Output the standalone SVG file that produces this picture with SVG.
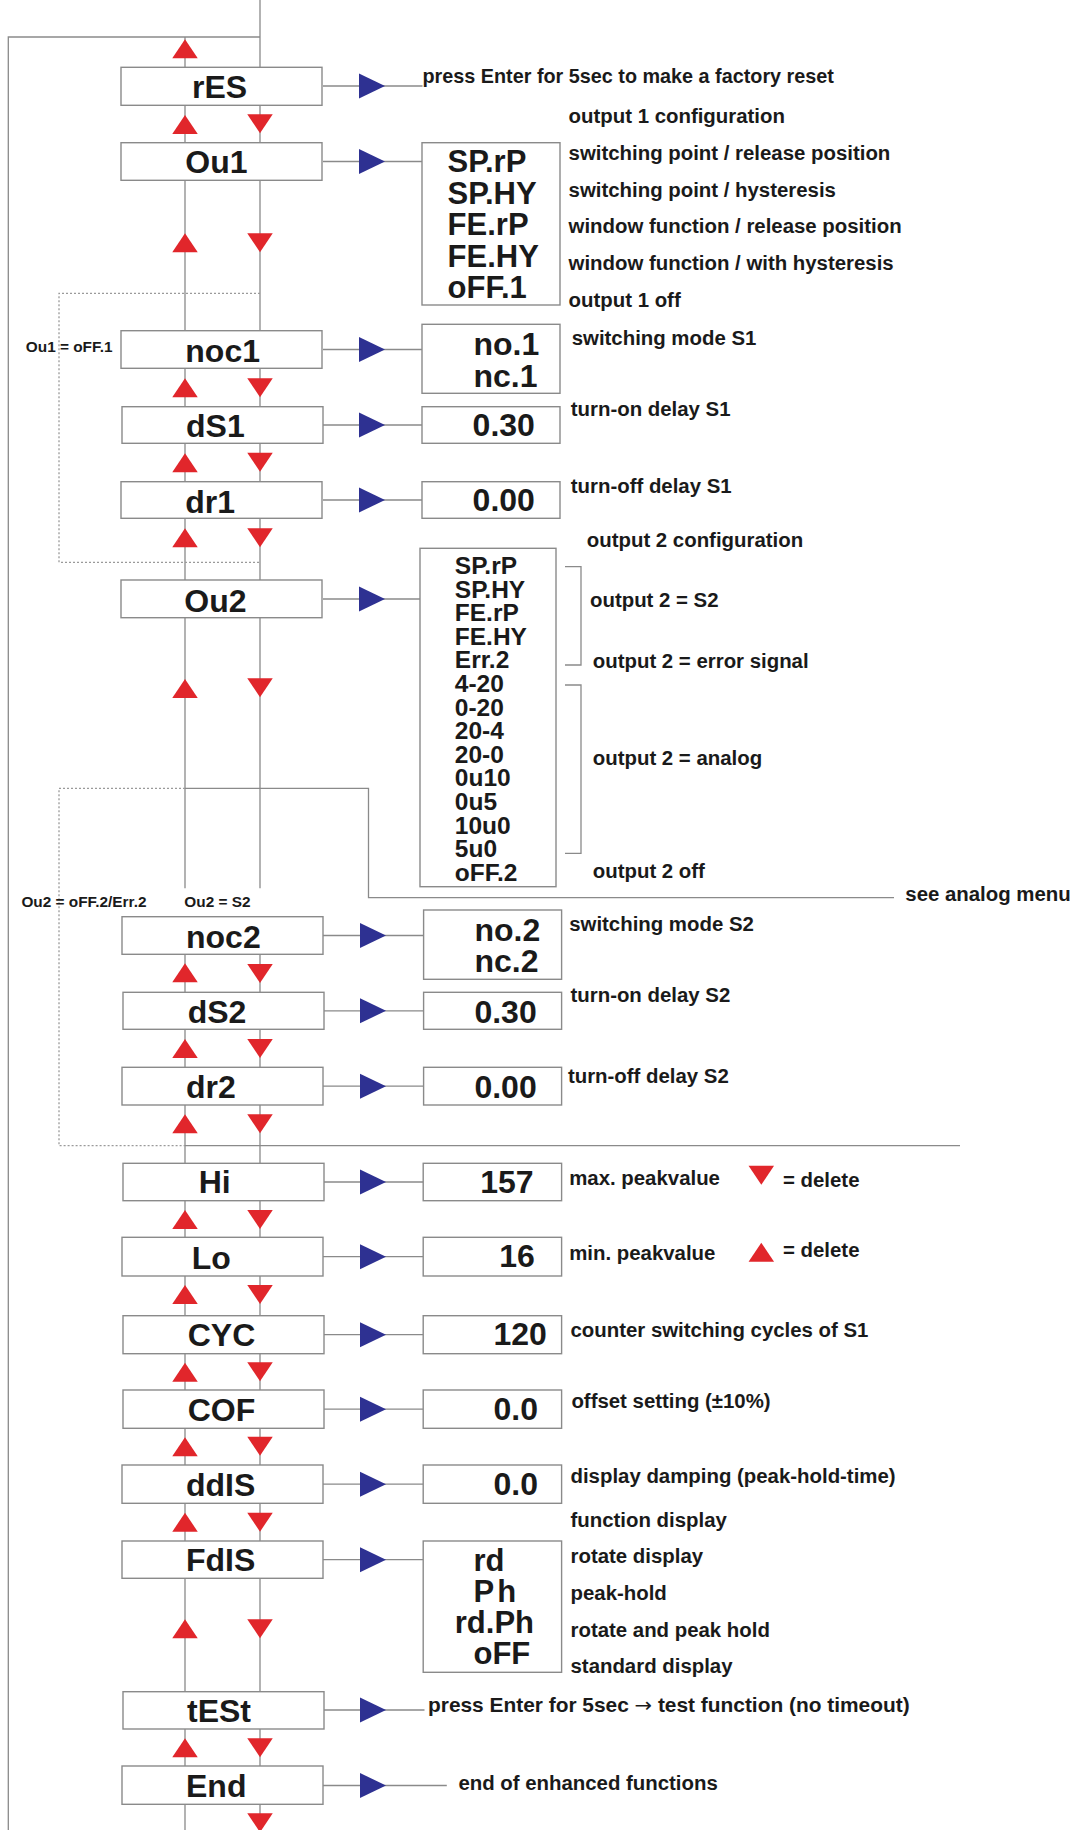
<svg xmlns="http://www.w3.org/2000/svg" width="1078" height="1830" viewBox="0 0 1078 1830">
<style>
.bx{fill:#fff;stroke:#8a8a8a;stroke-width:1.4}
.ln{fill:none;stroke:#8a8a8a;stroke-width:1.3}
.dt{fill:none;stroke:#9a9a9a;stroke-width:1.3;stroke-dasharray:2 2}
text{font-family:"Liberation Sans",Arial,sans-serif;font-weight:bold;fill:#1a1a1a}
.lbl{font-size:32px}
.val{font-size:32px}
.o1{font-size:31px}
.o2{font-size:24.5px}
.t{font-size:20px}
.s{font-size:14.5px}
.ar{font-family:"DejaVu Sans",sans-serif;font-weight:normal}
</style>
<defs>
<path id="up" d="M0,0L12.75,19L-12.75,19Z" fill="#e1262b"/>
<path id="dn" d="M-12.75,0L12.75,0L0,19Z" fill="#e1262b"/>
<path id="ra" d="M0,-12.5L26,0L0,12.5Z" fill="#2e3192"/>
</defs>
<g id="connectors">
<path class="ln" d="M8.3 1830V37H260"/>
<path class="ln" d="M185 37V888.3M185 916.7V1830"/>
<path class="ln" d="M260 0V888.3M260 916.7V1830"/>
<path class="dt" d="M260 293.3H59V562.3H260"/>
<path class="dt" d="M185 788.3H59V1145.7H185"/>
<path class="ln" d="M185 788.3H368.5V897.7H894"/>
<path class="ln" d="M185 1145.7H960"/>
<path class="ln" d="M565 566.7H581V665H565M565 685H581V853.3H565"/>
<path class="ln" d="M323 86H422.5M323 161.5H422M323 349.5H422M323 425H422M323 500H422M323 599H420M323 935.5H423.6M323 1010.8H423.6M323 1086.2H423.6M323 1182H423.2M323 1256.7H423.2M323 1334.7H423.2M323 1409.2H423.2M323 1484.2H423.2M323 1559.7H423.2M323 1710H424.5M323 1785.5H446.8"/>
<use href="#ra" x="359" y="86"/>
<use href="#ra" x="359" y="161.5"/>
<use href="#ra" x="359" y="349.5"/>
<use href="#ra" x="359" y="425"/>
<use href="#ra" x="359" y="500"/>
<use href="#ra" x="359" y="599"/>
<use href="#ra" x="360" y="935.5"/>
<use href="#ra" x="360" y="1010.8"/>
<use href="#ra" x="360" y="1086.2"/>
<use href="#ra" x="360" y="1182"/>
<use href="#ra" x="360" y="1256.7"/>
<use href="#ra" x="360" y="1334.7"/>
<use href="#ra" x="360" y="1409.2"/>
<use href="#ra" x="360" y="1484.2"/>
<use href="#ra" x="360" y="1559.7"/>
<use href="#ra" x="360" y="1710"/>
<use href="#ra" x="360" y="1785.5"/>
<use href="#up" x="185" y="39.3"/>
<use href="#up" x="185" y="115"/><use href="#dn" x="260" y="114.3"/>
<use href="#up" x="185" y="233.3"/><use href="#dn" x="260" y="233.3"/>
<use href="#up" x="185" y="378.3"/><use href="#dn" x="260" y="378.3"/>
<use href="#up" x="185" y="453.3"/><use href="#dn" x="260" y="452.7"/>
<use href="#up" x="185" y="528.3"/><use href="#dn" x="260" y="528.3"/>
<use href="#up" x="185" y="679"/><use href="#dn" x="260" y="678.3"/>
<use href="#up" x="185" y="963.3"/><use href="#dn" x="260" y="964"/>
<use href="#up" x="185" y="1039"/><use href="#dn" x="260" y="1039"/>
<use href="#up" x="185" y="1114.3"/><use href="#dn" x="260" y="1114.3"/>
<use href="#up" x="185" y="1210"/><use href="#dn" x="260" y="1210"/>
<use href="#up" x="185" y="1285"/><use href="#dn" x="260" y="1285"/>
<use href="#up" x="185" y="1362.7"/><use href="#dn" x="260" y="1362.3"/>
<use href="#up" x="185" y="1437.3"/><use href="#dn" x="260" y="1436.7"/>
<use href="#up" x="185" y="1512.7"/><use href="#dn" x="260" y="1512.7"/>
<use href="#up" x="185" y="1619.3"/><use href="#dn" x="260" y="1619.3"/>
<use href="#up" x="185" y="1738.3"/><use href="#dn" x="260" y="1738.3"/>
<use href="#dn" x="260" y="1813.3"/>
</g>
<g id="conditions">
<text class="s" transform="translate(25.8 351.7) scale(1.06 1)">Ou1 = oFF.1</text>
<text class="s" transform="translate(21.4 906.7) scale(1.06 1)">Ou2 = oFF.2/Err.2</text>
<text class="s" transform="translate(184.3 906.7) scale(1.06 1)">Ou2 = S2</text>
<text class="t" transform="translate(905.3 900.7) scale(1.02 1)">see analog menu</text>
</g>
<g id="rES"><rect class="bx" x="121" y="67.3" width="201" height="38"/><text class="lbl" x="192" y="98.3">rES</text>
<text class="t" transform="translate(422.5 83) scale(0.99 1)">press Enter for 5sec to make a factory reset</text></g>
<g id="Ou1"><rect class="bx" x="121" y="142.7" width="201" height="37.6"/><text class="lbl" x="185.3" y="173.3">Ou1</text>
<rect class="bx" x="422" y="142.7" width="138" height="162.3"/>
<text class="o1" x="447.6" y="172">SP.rP</text><text class="o1" x="447.6" y="203.5">SP.HY</text><text class="o1" x="447.6" y="235">FE.rP</text><text class="o1" x="447.6" y="266.5">FE.HY</text><text class="o1" x="447.6" y="298">oFF.1</text>
<text class="t" transform="translate(568.6 123.3) scale(1.02 1)">output 1 configuration</text>
<text class="t" transform="translate(568.6 160) scale(1.02 1)">switching point / release position</text>
<text class="t" transform="translate(568.6 196.7) scale(1.02 1)">switching point / hysteresis</text>
<text class="t" transform="translate(568.6 233.3) scale(1.02 1)">window function / release position</text>
<text class="t" transform="translate(568.6 270) scale(1.02 1)">window function / with hysteresis</text>
<text class="t" transform="translate(568.6 306.7) scale(1.02 1)">output 1 off</text></g>
<g id="noc1"><rect class="bx" x="121" y="330.7" width="201" height="37.6"/><text class="lbl" x="185.3" y="361.7">noc1</text>
<rect class="bx" x="422" y="324.3" width="138" height="69"/>
<text class="val" x="473.5" y="355">no.1</text><text class="val" x="473.5" y="386.7">nc.1</text>
<text class="t" transform="translate(571.7 345) scale(1.02 1)">switching mode S1</text></g>
<g id="dS1"><rect class="bx" x="122" y="406.7" width="201" height="36.6"/><text class="lbl" x="186" y="436.7">dS1</text>
<rect class="bx" x="422" y="406.7" width="138" height="36.6"/><text class="val" x="472.6" y="436">0.30</text>
<text class="t" transform="translate(570.8 416) scale(1.02 1)">turn-on delay S1</text></g>
<g id="dr1"><rect class="bx" x="121" y="481.7" width="201" height="36.6"/><text class="lbl" x="185.3" y="512.7">dr1</text>
<rect class="bx" x="422" y="481.7" width="138" height="36.6"/><text class="val" x="472.6" y="510.7">0.00</text>
<text class="t" transform="translate(570.8 493.3) scale(1.02 1)">turn-off delay S1</text></g>
<g id="Ou2"><rect class="bx" x="121" y="580" width="201" height="37.7"/><text class="lbl" x="184.3" y="611.7">Ou2</text>
<rect class="bx" x="420" y="548.3" width="136" height="338.4"/>
<text class="o2" x="454.8" y="574">SP.rP</text><text class="o2" x="454.8" y="597.6">SP.HY</text><text class="o2" x="454.8" y="621.2">FE.rP</text><text class="o2" x="454.8" y="644.8">FE.HY</text><text class="o2" x="454.8" y="668.4">Err.2</text><text class="o2" x="454.8" y="692">4-20</text><text class="o2" x="454.8" y="715.6">0-20</text><text class="o2" x="454.8" y="739.2">20-4</text><text class="o2" x="454.8" y="762.8">20-0</text><text class="o2" x="454.8" y="786.4">0u10</text><text class="o2" x="454.8" y="810">0u5</text><text class="o2" x="454.8" y="833.6">10u0</text><text class="o2" x="454.8" y="857.2">5u0</text><text class="o2" x="454.8" y="880.8">oFF.2</text>
<text class="t" transform="translate(586.8 546.7) scale(1.02 1)">output 2 configuration</text>
<text class="t" transform="translate(590 606.7) scale(1.02 1)">output 2 = S2</text>
<text class="t" transform="translate(592.8 668.3) scale(1.02 1)">output 2 = error signal</text>
<text class="t" transform="translate(592.8 765) scale(1.02 1)">output 2 = analog</text>
<text class="t" transform="translate(592.8 878.3) scale(1.02 1)">output 2 off</text></g>
<g id="noc2"><rect class="bx" x="122" y="916.7" width="201" height="37.6"/><text class="lbl" x="186" y="948.3">noc2</text>
<rect class="bx" x="423.6" y="910" width="138" height="69.3"/>
<text class="val" x="474.4" y="940.7">no.2</text><text class="val" x="474.4" y="971.7">nc.2</text>
<text class="t" transform="translate(569.2 930.7) scale(1.02 1)">switching mode S2</text></g>
<g id="dS2"><rect class="bx" x="123" y="992.3" width="201" height="37"/><text class="lbl" x="187.7" y="1022.7">dS2</text>
<rect class="bx" x="423.6" y="992.3" width="138" height="37"/><text class="val" x="474.4" y="1023.3">0.30</text>
<text class="t" transform="translate(570.5 1001.7) scale(1.02 1)">turn-on delay S2</text></g>
<g id="dr2"><rect class="bx" x="122" y="1067.3" width="201" height="37.7"/><text class="lbl" x="186" y="1098.3">dr2</text>
<rect class="bx" x="423.6" y="1067.3" width="138" height="37.7"/><text class="val" x="474.4" y="1098.3">0.00</text>
<text class="t" transform="translate(567.9 1083.3) scale(1.02 1)">turn-off delay S2</text></g>
<g id="Hi"><rect class="bx" x="123" y="1163.3" width="201" height="37.4"/><text class="lbl" x="198.7" y="1193.3">Hi</text>
<rect class="bx" x="423.2" y="1163.3" width="138.4" height="37.4"/><text class="val" x="480.2" y="1192.7">157</text>
<text class="t" transform="translate(569.2 1185) scale(1.02 1)">max. peakvalue</text>
<use href="#dn" x="761.3" y="1165.7"/>
<text class="t" transform="translate(783 1186.7) scale(1.02 1)">= delete</text></g>
<g id="Lo"><rect class="bx" x="122" y="1237.3" width="201" height="38.7"/><text class="lbl" x="191.8" y="1269">Lo</text>
<rect class="bx" x="423.2" y="1237.3" width="138.4" height="38.7"/><text class="val" x="499.3" y="1267.3">16</text>
<text class="t" transform="translate(569.2 1260) scale(1.02 1)">min. peakvalue</text>
<use href="#up" x="761.3" y="1242.7"/>
<text class="t" transform="translate(783 1257.3) scale(1.02 1)">= delete</text></g>
<g id="CYC"><rect class="bx" x="123" y="1315.7" width="201" height="38"/><text class="lbl" x="187.7" y="1346">CYC</text>
<rect class="bx" x="423.2" y="1315.7" width="138.4" height="38"/><text class="val" x="493.5" y="1345">120</text>
<text class="t" transform="translate(570.5 1336.7) scale(1.02 1)">counter switching cycles of S1</text></g>
<g id="COF"><rect class="bx" x="123" y="1390" width="201" height="38.3"/><text class="lbl" x="187.7" y="1420.7">COF</text>
<rect class="bx" x="423.2" y="1390" width="138.4" height="38.3"/><text class="val" x="493.5" y="1420">0.0</text>
<text class="t" transform="translate(571.4 1408.3) scale(1.02 1)">offset setting (±10%)</text></g>
<g id="ddIS"><rect class="bx" x="122" y="1465" width="201" height="38.3"/><text class="lbl" x="186" y="1496">ddIS</text>
<rect class="bx" x="423.2" y="1465" width="138.4" height="38.3"/><text class="val" x="493.5" y="1495">0.0</text>
<text class="t" transform="translate(570.5 1483.3) scale(1.02 1)">display damping (peak-hold-time)</text></g>
<g id="FdIS"><rect class="bx" x="122" y="1541" width="201" height="37.3"/><text class="lbl" x="186" y="1570.7">FdIS</text>
<rect class="bx" x="423.2" y="1541" width="138.4" height="131.3"/>
<text class="o1" x="473.5" y="1570.7">rd</text><text class="o1" x="473.5" y="1601.7" letter-spacing="3">Ph</text><text class="o1" x="454.8" y="1633.3">rd.Ph</text><text class="o1" x="473.5" y="1664">oFF</text>
<text class="t" transform="translate(570.5 1526.7) scale(1.02 1)">function display</text>
<text class="t" transform="translate(570.5 1563.3) scale(1.02 1)">rotate display</text>
<text class="t" transform="translate(570.5 1600) scale(1.02 1)">peak-hold</text>
<text class="t" transform="translate(570.5 1636.7) scale(1.02 1)">rotate and peak hold</text>
<text class="t" transform="translate(570.5 1673.3) scale(1.02 1)">standard display</text></g>
<g id="tESt"><rect class="bx" x="123" y="1691.7" width="201" height="37.3"/><text class="lbl" x="187" y="1721.7">tESt</text>
<text class="t" transform="translate(428 1711.7) scale(1.045 1)">press Enter for 5sec <tspan class="ar">→</tspan> test function (no timeout)</text></g>
<g id="End"><rect class="bx" x="122" y="1766" width="201" height="38.3"/><text class="lbl" x="186" y="1796.7">End</text>
<text class="t" transform="translate(458.4 1790) scale(1.02 1)">end of enhanced functions</text></g>
</svg>
